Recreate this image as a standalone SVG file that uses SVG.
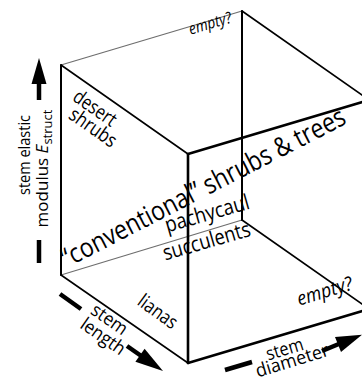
<svg xmlns="http://www.w3.org/2000/svg" width="362" height="381" viewBox="0 0 362 381">
<style>
text{font-family:"Open Sans","Liberation Sans",sans-serif;fill:#000}
.e{stroke:#000;stroke-linecap:round;fill:none}
.thin{stroke:#6e6e6e;stroke-width:1.3;fill:none}
.ax{stroke:#000;stroke-width:4.5;fill:none}
</style>
<rect width="362" height="381" fill="#fff"/>
<g id="connectors">
<line class="thin" x1="61" y1="65" x2="242" y2="11"/>
<line class="thin" x1="61" y1="275" x2="242" y2="220"/>
<line class="e" stroke-width="2" x1="61" y1="65" x2="61" y2="275"/>
<line class="e" stroke-width="2" x1="242" y1="11" x2="242" y2="220"/>
<line class="e" stroke-width="1.6" x1="61" y1="65" x2="188" y2="154"/>
<line class="e" stroke-width="1.6" x1="242" y1="11" x2="369" y2="100"/>
<line class="e" stroke-width="1.6" x1="61" y1="275" x2="188" y2="363"/>
<line class="e" stroke-width="1.6" x1="242" y1="220" x2="369" y2="309"/>
<line class="e" stroke-width="2.6" x1="188" y1="154" x2="369" y2="100"/>
<line class="e" stroke-width="2.6" x1="188" y1="154" x2="188" y2="363"/>
<line class="e" stroke-width="2.6" x1="188" y1="363" x2="369" y2="309"/>
</g>
<g id="axis-modulus">
<polygon points="39,58 31.5,84 46.5,84" fill="#000"/>
<line class="ax" x1="39" y1="83" x2="39" y2="100" stroke-width="4"/>
<line class="ax" x1="39" y1="240" x2="39" y2="263" stroke-width="4"/>
<text transform="translate(30,155) rotate(-90)" text-anchor="middle" font-size="16.5" textLength="80" lengthAdjust="spacingAndGlyphs">stem elastic</text>
<text transform="translate(48,168.5) rotate(-90)" text-anchor="middle" font-size="17">modulus <tspan font-style="italic">E</tspan><tspan font-size="13" dy="4">struct</tspan></text>
</g>
<g id="axis-length">
<line class="ax" x1="60" y1="294" x2="81" y2="309"/>
<line class="ax" x1="127" y1="346" x2="142" y2="356.5"/>
<polygon points="135.4,361.8 144.6,348.8 163,371" fill="#000"/>
<text transform="translate(106,324.5) rotate(35)" text-anchor="middle" font-size="18.5" textLength="40" lengthAdjust="spacingAndGlyphs">stem</text>
<text transform="translate(99.5,341.5) rotate(35)" text-anchor="middle" font-size="18.5" textLength="50" lengthAdjust="spacingAndGlyphs">length</text>
</g>
<g id="axis-diameter">
<line class="ax" x1="225" y1="370" x2="252" y2="362"/>
<line class="ax" x1="322" y1="351" x2="340" y2="343.5"/>
<polygon points="341,352 335,337 362,334.8" fill="#000"/>
<text transform="translate(286.5,355) rotate(-17)" text-anchor="middle" font-size="18.5" textLength="38" lengthAdjust="spacingAndGlyphs">stem</text>
<text transform="translate(294,366.5) rotate(-17)" text-anchor="middle" font-size="18.5" textLength="76" lengthAdjust="spacingAndGlyphs">diameter</text>
</g>
<g id="empty-top">
<text transform="translate(211.6,28.5) rotate(-16.6)" text-anchor="middle" font-size="16" font-style="italic" textLength="44" lengthAdjust="spacingAndGlyphs">empty?</text>
</g>
<g id="desert-shrubs">
<text transform="translate(91.2,113.5) rotate(35)" text-anchor="middle" font-size="20" textLength="48" lengthAdjust="spacingAndGlyphs">desert</text>
<text transform="translate(89.3,133) rotate(35)" text-anchor="middle" font-size="20" textLength="53" lengthAdjust="spacingAndGlyphs">shrubs</text>
</g>
<g id="conventional">
<text transform="translate(67,268) rotate(-27.3)" font-size="27" textLength="316" lengthAdjust="spacingAndGlyphs">“conventional” shrubs &amp; trees</text>
</g>
<g id="pachycaul">
<text transform="translate(209,220.5) rotate(-16)" text-anchor="middle" font-size="21.5" textLength="87" lengthAdjust="spacingAndGlyphs">pachycaul</text>
<text transform="translate(208.5,248) rotate(-16)" text-anchor="middle" font-size="21.5" textLength="90" lengthAdjust="spacingAndGlyphs">succulents</text>
</g>
<g id="lianas">
<text transform="translate(154,317) rotate(36)" text-anchor="middle" font-size="19.5" textLength="44" lengthAdjust="spacingAndGlyphs">lianas</text>
</g>
<g id="empty-bottom">
<text transform="translate(326.5,297.5) rotate(-17)" text-anchor="middle" font-size="19.5" font-style="italic" textLength="57" lengthAdjust="spacingAndGlyphs">empty?</text>
</g>
</svg>
